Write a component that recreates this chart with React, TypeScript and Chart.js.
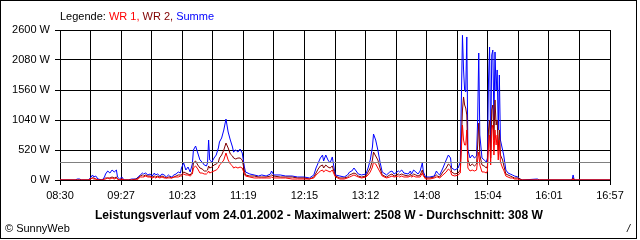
import { useEffect, useRef } from 'react';
import { Chart, registerables } from 'chart.js';

Chart.register(...registerables);

// minutes after 08:30
const times = [0,14,16,18,20,26,28,30,31,33,35,39,41,42,44,46,48,50,52,53,55,57,59,63,66,70,72,74,76,77,79,81,83,85,87,88,90,92,94,96,98,100,101,103,105,107,109,111,112,114,116,118,120,122,123,125,127,129,131,133,135,136,137,138,140,142,144,146,147,149,151,153,155,157,159,160,162,164,166,168,170,171,175,179,183,186,190,194,195,197,203,208,214,219,225,230,234,236,238,240,242,243,245,247,249,251,253,254,258,262,265,267,269,271,273,275,278,282,284,286,288,289,291,293,295,297,301,304,306,308,312,313,315,317,321,323,324,326,328,330,332,334,335,337,341,345,347,348,350,353,356,358,360,361,364,367,369,371,372,373,374,375,376,378,380,382,384,385,386,387,389,391,393,394,395,396,397,398,399,400,401,402,403,404,405,406,408,409,411,413,415,417,419,422,424,426,440,442,472,473,474,507];

const summe = [0,0,17,17,0,0,35,87,52,69,17,0,52,104,156,121,173,139,173,52,17,52,0,0,17,17,52,87,121,104,121,87,104,69,121,87,104,69,104,87,52,87,69,52,87,104,139,121,208,295,173,225,139,277,520,589,468,347,312,260,243,295,693,347,312,381,433,555,659,728,867,1057,832,693,572,485,520,485,537,468,225,139,104,87,69,87,69,104,156,87,87,69,69,52,52,35,87,208,295,381,433,329,433,347,295,399,173,87,69,52,87,139,156,208,156,104,87,104,208,347,572,797,693,520,312,139,87,139,156,104,156,139,173,121,104,156,104,173,139,104,156,295,139,52,52,69,156,121,87,208,347,433,381,208,173,208,312,2508,1907,1560,1525,2479,520,381,433,381,416,1040,2201,780,381,347,312,381,1733,2305,520,2167,2253,1040,2219,1560,1907,867,1820,693,520,433,173,121,104,87,69,52,17,0,17,0,0,87,0,0];

const wr2 = [0,0,0,0,0,0,17,35,35,17,0,0,17,35,35,35,52,35,52,17,0,17,0,0,0,17,35,69,87,69,87,69,69,52,69,52,69,52,69,52,35,52,52,35,52,69,87,87,87,139,121,104,87,139,295,329,260,208,191,156,156,173,243,208,225,260,277,312,381,433,520,641,555,451,416,381,364,381,381,347,156,87,69,69,52,52,52,69,87,69,52,52,52,35,35,17,52,121,191,243,260,208,260,225,208,243,121,69,35,35,52,87,104,121,104,69,52,69,139,208,347,485,416,347,208,87,52,87,104,69,104,87,104,87,69,104,69,104,87,69,87,173,87,35,35,52,87,69,52,139,208,277,243,139,104,121,173,1213,1439,1300,1248,1127,347,243,277,243,277,607,988,433,260,243,208,243,867,1040,381,1213,1300,693,1387,953,1040,520,867,433,347,260,104,87,69,52,35,35,17,0,0,0,0,35,0,0];

const wr1 = [0,0,0,0,0,0,17,35,17,17,0,0,17,17,35,17,35,17,35,17,0,17,0,0,0,0,17,52,52,52,69,52,52,35,52,35,52,35,52,35,35,35,35,35,52,52,52,69,69,104,87,87,69,104,208,243,191,121,121,104,104,121,156,121,139,156,173,208,260,295,347,468,347,277,243,208,225,208,225,208,104,69,52,35,35,35,35,35,52,35,35,35,17,17,17,17,35,87,121,156,173,139,173,156,139,173,87,52,17,17,35,52,69,87,69,52,35,52,87,139,225,312,277,208,139,69,35,52,69,52,69,52,69,52,52,69,52,69,52,52,52,121,69,17,17,35,52,52,35,87,139,191,156,87,69,87,121,953,693,607,607,867,208,156,173,156,173,347,485,260,139,139,121,156,607,780,260,867,953,433,867,607,780,347,693,312,208,173,69,52,35,35,17,17,0,0,0,0,0,17,0,0];

const xTickLabels = ['08:30','09:27','10:23','11:19','12:15','13:12','14:08','15:04','16:01','16:57'];
const xSpanMinutes = 507;
const yMax = 2600;
const yStep = 520;
const dateText = '24.01.2002';
const maxValue = 2508;
const average = 308;

const FONT = 'Liberation Sans';

export default function App() {
  const ref = useRef<HTMLCanvasElement>(null);

  useEffect(() => {
    document.body.style.margin = '0';
    const canvas = ref.current!;
    const gridCount = (xTickLabels.length - 1) * 2;

    const decor = {
      id: 'decor',
      beforeDraw(chart: any) {
        const ctx = chart.ctx;
        ctx.save();
        ctx.fillStyle = '#ffffff';
        ctx.fillRect(0, 0, chart.width, chart.height);
        ctx.restore();
      },
      afterDatasetsDraw(chart: any) {
        const ctx = chart.ctx;
        const y = Math.round(chart.scales.y.getPixelForValue(average)) + 0.5;
        const a = chart.chartArea;
        ctx.save();
        ctx.strokeStyle = '#808080';
        ctx.lineWidth = 1;
        ctx.beginPath();
        ctx.moveTo(a.left, y);
        ctx.lineTo(a.right, y);
        ctx.stroke();
        ctx.restore();
      },
      afterDraw(chart: any) {
        const ctx = chart.ctx;
        ctx.save();
        // frame
        ctx.strokeStyle = '#000';
        ctx.lineWidth = 1;
        ctx.strokeRect(0.5, 0.5, 636, 238);
        // legend
        ctx.font = `11px "${FONT}"`;
        ctx.textBaseline = 'middle';
        ctx.textAlign = 'left';
        const parts: [string, string][] = [
          ['Legende: ', '#000000'],
          ['WR 1, ', '#ff0000'],
          ['WR 2, ', '#800000'],
          ['Summe', '#0000ff'],
        ];
        let x = 60;
        for (const [t, c] of parts) {
          ctx.fillStyle = c;
          ctx.fillText(t, x, 17);
          x += ctx.measureText(t).width;
        }
        // title
        const title = `Leistungsverlauf vom ${dateText} - Maximalwert: ${maxValue} W - Durchschnitt: ${average} W`;
        ctx.font = `bold 12px "${FONT}"`;
        ctx.fillStyle = '#000';
        const w = ctx.measureText(title).width;
        const target = 448;
        ctx.save();
        ctx.translate(319, 216);
        ctx.scale(target / w, 1);
        ctx.textAlign = 'center';
        ctx.fillText(title, 0, 0);
        ctx.restore();
        // footer
        ctx.font = `11px "${FONT}"`;
        ctx.textAlign = 'left';
        ctx.fillText('\u00A9 SunnyWeb', 5, 229);
        ctx.font = `italic 11px "${FONT}"`;
        ctx.fillText('/', 627, 229);
        ctx.restore();
      },
    };

    const chart = new Chart(canvas, {
      type: 'line',
      data: {
        datasets: [
          { label: 'WR 1', data: times.map((t, i) => ({ x: t, y: wr1[i] })), borderColor: '#ff0000' },
          { label: 'WR 2', data: times.map((t, i) => ({ x: t, y: wr2[i] })), borderColor: '#800000' },
          { label: 'Summe', data: times.map((t, i) => ({ x: t, y: summe[i] })), borderColor: '#0000ff' },
        ].map((d) => ({ ...d, borderWidth: 1, pointRadius: 0, tension: 0, fill: false })),
      },
      options: {
        responsive: false,
        animation: false,
        events: [],
        layout: { padding: { left: 0, top: 30, right: 30, bottom: 0 } },
        plugins: { legend: { display: false }, tooltip: { enabled: false }, title: { display: false } },
        scales: {
          x: {
            type: 'linear',
            min: 0,
            max: xSpanMinutes,
            afterBuildTicks: (scale: any) => {
              const arr = [];
              for (let i = 0; i <= gridCount; i++) arr.push({ value: (i * xSpanMinutes) / gridCount });
              scale.ticks = arr;
            },
            afterFit: (scale: any) => { scale.height = 60; },
            grid: { color: '#000', tickColor: '#000', lineWidth: 1, tickLength: 5, drawTicks: true },
            border: { color: '#000' },
            ticks: {
              autoSkip: false,
              maxRotation: 0,
              padding: 4,
              color: '#000',
              font: { family: FONT, size: 11 },
              callback: (_v: any, i: number) => (i % 2 === 0 ? xTickLabels[i / 2] : ''),
            },
          },
          y: {
            min: 0,
            max: yMax,
            afterFit: (scale: any) => { scale.width = 60; },
            grid: { color: '#000', tickColor: '#000', lineWidth: 1, tickLength: 5 },
            border: { color: '#000' },
            ticks: {
              stepSize: yStep,
              padding: 5,
              color: '#000',
              font: { family: FONT, size: 11 },
              callback: (v: any) => `${v} W`,
            },
          },
        },
      },
      plugins: [decor],
    });
    return () => chart.destroy();
  }, []);

  return <canvas ref={ref} width={640} height={240} style={{ display: 'block' }} />;
}
